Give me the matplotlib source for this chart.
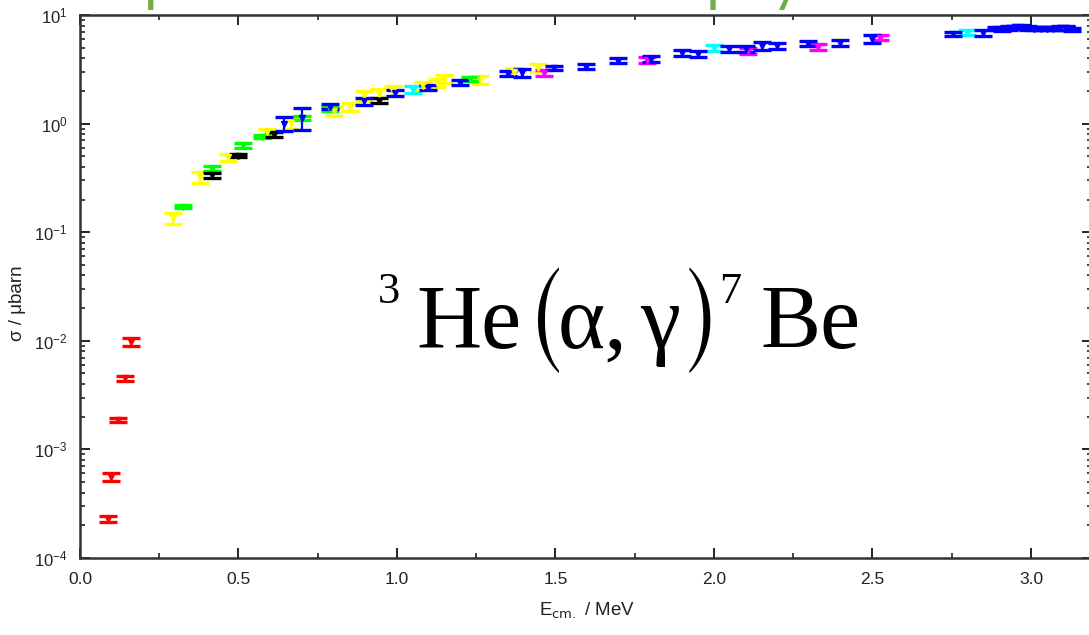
import matplotlib
matplotlib.use("Agg")
import matplotlib.pyplot as plt
from matplotlib.ticker import LogLocator, MultipleLocator, FixedFormatter, NullFormatter

# 3He(alpha,gamma)7Be cross section data sets, grouped by colour
red_e = [0.088, 0.098, 0.120, 0.142, 0.161]
red_s = [2.3e-4, 5.6e-4, 1.85e-3, 4.5e-3, 9.8e-3]
red_err = [1.5e-5, 4.5e-5, 8e-5, 2e-4, 8e-4]

yellow_e = [0.293, 0.379, 0.467, 0.590, 0.665, 0.800, 0.852, 0.896, 0.943, 0.987,
            1.082, 1.126, 1.148, 1.262, 1.369, 1.445]
yellow_s = [0.134, 0.32, 0.49, 0.83, 1.02, 1.30, 1.43, 1.81, 1.89, 2.01,
            2.24, 2.38, 2.59, 2.54, 3.00, 3.27]
yellow_err = [0.015, 0.035, 0.04, 0.07, 0.12, 0.12, 0.13, 0.18, 0.18, 0.20,
              0.20, 0.20, 0.22, 0.22, 0.25, 0.30]

green_e = [0.325, 0.416, 0.514, 0.574, 0.700, 0.789, 1.230]
green_s = [0.172, 0.385, 0.63, 0.76, 1.13, 1.37, 2.59]
green_err = [0.006, 0.02, 0.03, 0.03, 0.04, 0.05, 0.10]

black_e = [0.416, 0.498, 0.612, 0.943]
black_s = [0.333, 0.508, 0.79, 1.63]
black_err = [0.015, 0.02, 0.04, 0.08]

blue_e = [0.644, 0.700, 0.789, 0.896, 0.994, 1.098, 1.199, 1.350, 1.394, 1.495,
          1.596, 1.697, 1.800, 1.899, 1.950, 2.047, 2.100, 2.151, 2.199, 2.297,
          2.397, 2.498, 2.754, 2.849, 2.89, 2.91, 2.93, 2.95, 2.97, 2.99,
          3.01, 3.03, 3.05, 3.07, 3.09, 3.11, 3.13]
blue_s = [1.00, 1.13, 1.43, 1.60, 1.93, 2.14, 2.38, 2.88, 2.94, 3.27,
          3.35, 3.80, 3.96, 4.50, 4.40, 4.90, 4.90, 5.20, 5.20, 5.44,
          5.56, 6.05, 6.73, 6.87, 7.5, 7.4, 7.6, 7.7, 7.8, 7.6,
          7.5, 7.5, 7.5, 7.5, 7.6, 7.6, 7.4]
blue_err = [0.15, 0.25, 0.08, 0.12, 0.12, 0.12, 0.12, 0.15, 0.25, 0.15,
            0.20, 0.22, 0.25, 0.30, 0.30, 0.30, 0.30, 0.45, 0.30, 0.30,
            0.35, 0.50, 0.30, 0.45, 0.25, 0.25, 0.25, 0.25, 0.25, 0.25,
            0.25, 0.25, 0.25, 0.25, 0.25, 0.25, 0.25]

cyan_e = [1.050, 2.000, 2.798]
cyan_s = [2.06, 5.00, 6.87]
cyan_err = [0.15, 0.30, 0.35]

magenta_e = [1.464, 1.789, 2.107, 2.328, 2.524]
magenta_s = [2.94, 3.88, 4.70, 5.10, 6.18]
magenta_err = [0.18, 0.25, 0.30, 0.30, 0.35]

x_ticks = [0.0, 0.5, 1.0, 1.5, 2.0, 2.5, 3.0]
x_tick_labels = ["0.0", "0.5", "1.0", "1.5", "2.0", "2.5", "3.0"]

plt.rcParams["font.family"] = ["Liberation Sans", "DejaVu Sans"]
plt.rcParams["mathtext.default"] = "regular"

W, H = 1089, 635
fig = plt.figure(figsize=(W / 100, H / 100), dpi=100)
left, right, top, bottom = 80, 1092, 15, 558
ax = fig.add_axes([left / W, 1 - bottom / H, (right - left) / W, (bottom - top) / H])

series = [
    (red_e, red_s, red_err, "#ff0000"),
    (yellow_e, yellow_s, yellow_err, "#ffff00"),
    (green_e, green_s, green_err, "#00ff00"),
    (black_e, black_s, black_err, "#000000"),
    (cyan_e, cyan_s, cyan_err, "#00ffff"),
    (magenta_e, magenta_s, magenta_err, "#ff00ff"),
    (blue_e, blue_s, blue_err, "#0000ff"),
]
for e, s, err, c in series:
    ax.errorbar(e, s, yerr=err, fmt="v", color=c, ms=5, mec=c, mfc=c,
                elinewidth=1.6, capsize=6.5, capthick=2.4, zorder=3)

ax.set_yscale("log")
ax.set_ylim(1e-4, 10)
ax.set_xlim(0, (right - left) / 317.0)

ax.xaxis.set_minor_locator(MultipleLocator(0.25))
ax.set_xticks(x_ticks)
ax.xaxis.set_major_formatter(FixedFormatter(x_tick_labels))
ax.yaxis.set_major_locator(LogLocator(base=10, numticks=10))
ax.yaxis.set_minor_locator(LogLocator(base=10, subs=range(2, 10), numticks=20))
ax.yaxis.set_minor_formatter(NullFormatter())

ax.tick_params(which="both", direction="in", top=True, right=True, colors="#222222",
               labelcolor="#222222")
ax.tick_params(axis="x", labelsize=12.5, pad=10)
ax.tick_params(axis="y", labelsize=12, pad=9)
ax.tick_params(which="major", length=7, width=1.4)
ax.tick_params(which="minor", length=3.5, width=1.2)
for sp in ax.spines.values():
    sp.set_linewidth(1.8)
    sp.set_color("#333333")

ax.set_xlabel(r"E$_{\mathrm{cm.}}$ / MeV", fontsize=13.5, color="#222222")
ax.set_ylabel(r"σ / μbarn", fontsize=13.5, color="#222222")
ax.xaxis.set_label_coords((587 - left) / (right - left), -(610 - bottom) / (bottom - top))
ax.yaxis.set_label_coords(-(left - 17) / (right - left), (bottom - 303) / (bottom - top))
ax.xaxis.label.set_va("center")
ax.yaxis.label.set_va("center")


def px(x, y):
    """Pixel position (from top-left) to figure fraction."""
    return x / W, 1 - y / H


# reaction label, built from pieces so the mass numbers and brackets can be sized
serif = ["Liberation Serif", "DejaVu Serif"]
pieces = [
    ("3", 378, 303, 32, "baseline"),
    ("He", 416, 348, 65, "baseline"),
    ("α,", 558, 348, 65, "baseline"),
    ("γ", 640, 348, 65, "baseline"),
    ("7", 719, 303, 32, "baseline"),
    ("Be", 760, 348, 65, "baseline"),
]
for txt, x, y, size, va in pieces:
    fig.text(*px(x, y), txt, fontsize=size, family=serif, color="black",
             ha="left", va=va)

# tall, narrow round brackets from the STIX size-one delimiter font
for txt, x in [("(", 546), (")", 702)]:
    fig.text(*px(x, 325), txt, fontsize=62, color="black", ha="center",
             va="center", family=["STIXSizeOneSym", "STIXGeneral", "DejaVu Serif"])

# slide heading, running off the top edge
fig.text(*px(10, 0), "Extrapolation and the astrophysical S-factor",
         fontsize=42, color="#70ad47", ha="left", va="baseline",
         family=["Lato", "DejaVu Sans"])

fig.savefig("out.png", dpi=100)
